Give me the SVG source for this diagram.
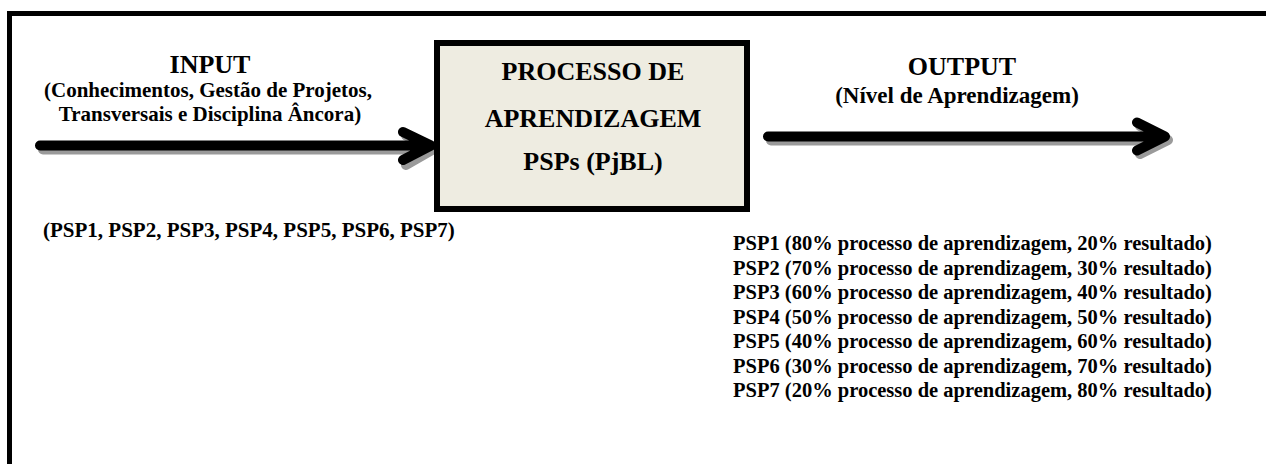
<svg xmlns="http://www.w3.org/2000/svg" width="1266" height="464" viewBox="0 0 1266 464">
<style>
text{font-family:"Liberation Serif","Times New Roman",serif;font-weight:bold;fill:#000}
.big{font-size:26px}
.sub{font-size:21px}
.lst{font-size:20.5px}
.arr{fill:none;stroke:#000;stroke-width:10;stroke-linecap:round;stroke-linejoin:round}
.shd{fill:none;stroke:#9a9a9a;stroke-width:10;stroke-linecap:round;stroke-linejoin:round}
</style>
<rect width="1266" height="464" fill="#fff"/>
<rect id="frame" x="9.5" y="13.5" width="1300" height="500" fill="none" stroke="#000" stroke-width="5"/>
<g id="connectors">
  <g id="arrow-in">
    <path class="shd" d="M43 149.5H432M406 135.5L433 149.5L406 165"/>
    <path class="arr" d="M40 145.5H430M403 132L431 145.5L403 160"/>
  </g>
  <g id="arrow-out">
    <path class="shd" d="M771 140.5H1166M1140 126L1168 140L1140 154"/>
    <path class="arr" d="M768 136.5H1163M1137 122.5L1165 136.5L1137 150.5"/>
  </g>
</g>
<g id="input">
  <text class="big" x="210" y="73" text-anchor="middle">INPUT</text>
  <text class="sub" x="208" y="97" text-anchor="middle">(Conhecimentos, Gestão de Projetos,</text>
  <text class="sub" x="210" y="121" text-anchor="middle">Transversais e Disciplina Âncora)</text>
</g>
<g id="processo">
  <rect x="437" y="43" width="310" height="166" fill="#EEECE1" stroke="#000" stroke-width="6"/>
  <text class="big" x="593" y="80" text-anchor="middle">PROCESSO DE</text>
  <text class="big" x="593" y="127" text-anchor="middle">APRENDIZAGEM</text>
  <text class="big" x="593" y="170" text-anchor="middle">PSPs (PjBL)</text>
</g>
<g id="output">
  <text class="big" x="962" y="75" text-anchor="middle">OUTPUT</text>
  <text x="957" y="103" text-anchor="middle" style="font-size:23px">(Nível de Aprendizagem)</text>
</g>
<g id="psp-list">
  <text class="sub" x="43" y="237">(PSP1, PSP2, PSP3, PSP4, PSP5, PSP6, PSP7)</text>
</g>
<g id="psp-weights" class="lst">
  <text class="lst" x="733" y="250">PSP1 (80% processo de aprendizagem, 20% resultado)</text>
  <text class="lst" x="733" y="274.5">PSP2 (70% processo de aprendizagem, 30% resultado)</text>
  <text class="lst" x="733" y="299">PSP3 (60% processo de aprendizagem, 40% resultado)</text>
  <text class="lst" x="733" y="323.5">PSP4 (50% processo de aprendizagem, 50% resultado)</text>
  <text class="lst" x="733" y="348">PSP5 (40% processo de aprendizagem, 60% resultado)</text>
  <text class="lst" x="733" y="372.5">PSP6 (30% processo de aprendizagem, 70% resultado)</text>
  <text class="lst" x="733" y="397">PSP7 (20% processo de aprendizagem, 80% resultado)</text>
</g>
</svg>
